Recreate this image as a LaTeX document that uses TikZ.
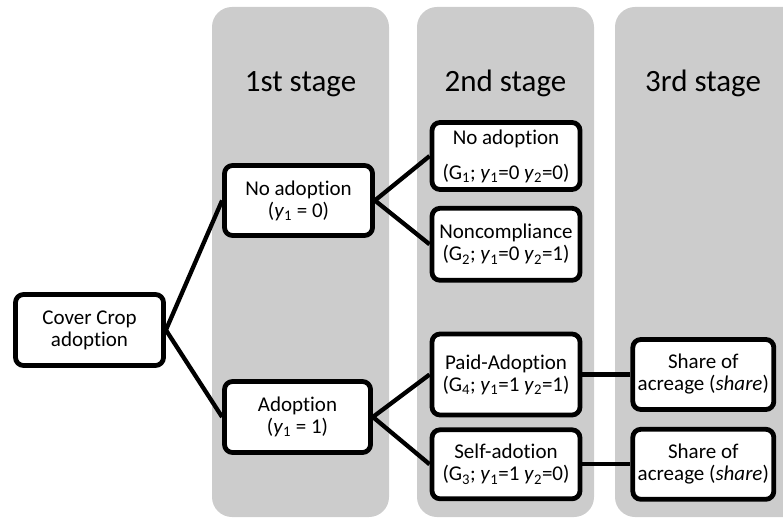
\documentclass[tikz,border=0pt]{standalone}
\usepackage{fontspec}
\setmainfont{Carlito}[Ligatures={NoCommon,NoContextual}]
\usetikzlibrary{positioning}
\definecolor{stagegray}{RGB}{204,204,204}
\newcommand{\yv}[1]{\textit{y}\textsubscript{#1}}
\newcommand{\grp}[1]{G\textsubscript{#1}}

\begin{document}
\begin{tikzpicture}[x=1pt, y=-1pt,
  stage/.style={fill=stagegray, rounded corners=20pt},
  title/.style={font=\fontsize{31}{36}\selectfont, anchor=base},
  box/.style={rectangle, rounded corners=8pt, draw=black, line width=4.8pt, fill=white,
              minimum width=148pt, minimum height=71pt, inner sep=2pt,
              font=\fontsize{21}{22}\selectfont, align=center},
  link/.style={line width=4.3pt},
  node distance=14pt and 48pt
]
  \useasboundingbox (0,0) rectangle (783,518);
  \clip (0,0) rectangle (783,518);

  % Stage columns
  \fill[stage] (212,7) rectangle (389,517);
  \fill[stage] (417,7) rectangle (594,517);
  \fill[stage] (615,7) rectangle (810,517);
  \node[title] (t1) at (300.5,92) {1st stage};
  \node[title] (t2) at (505.5,92) {2nd stage};
  \node[title] (t3) at (703,92) {3rd stage};

  % Root and 1st stage
  \node[box, minimum width=148pt, minimum height=71pt] (cover) at (89.5,330) {Cover Crop\\adoption};
  \node[box, minimum width=148pt, minimum height=70pt] (noadopt) at (298.5,200.5) {No adoption\\(\yv{1} = 0)};
  \node[box, minimum width=146pt, minimum height=71pt] (adopt) at (297.5,417) {Adoption\\(\yv{1} = 1)};

  % 2nd stage
  \node[box, minimum height=67pt] (g1) at (506,156) {No adoption\\[13pt](\grp{1}; \yv{1}=0 \yv{2}=0)};
  \node[box, minimum height=72pt, below=of g1] (g2) {Noncompliance\\(\grp{2}; \yv{1}=0 \yv{2}=1)};
  \node[box, minimum height=81pt] (g4) at (506,374.5) {Paid-Adoption\\(\grp{4}; \yv{1}=1 \yv{2}=1)};
  \node[box, minimum height=69pt, below=10pt of g4] (g3) {Self-adotion\\(\grp{3}; \yv{1}=1 \yv{2}=0)};

  % 3rd stage
  \node[box, minimum width=141pt, minimum height=70pt, right=of g4] (share1) {Share of\\acreage (\textit{share})};
  \node[box, minimum width=141pt, minimum height=70pt, right=of g3] (share2) {Share of\\acreage (\textit{share})};

  \draw[link] (cover.east)   -- (noadopt.west);
  \draw[link] (cover.east)   -- (adopt.west);
  \draw[link] (noadopt.east) -- (g1.west);
  \draw[link] (noadopt.east) -- (g2.west);
  \draw[link] (adopt.east)   -- (g4.west);
  \draw[link] (adopt.east)   -- (g3.west);
  \draw[link] (g4.east)      -- (share1.west);
  \draw[link] (g3.east)      -- (share2.west);
\end{tikzpicture}
\end{document}
